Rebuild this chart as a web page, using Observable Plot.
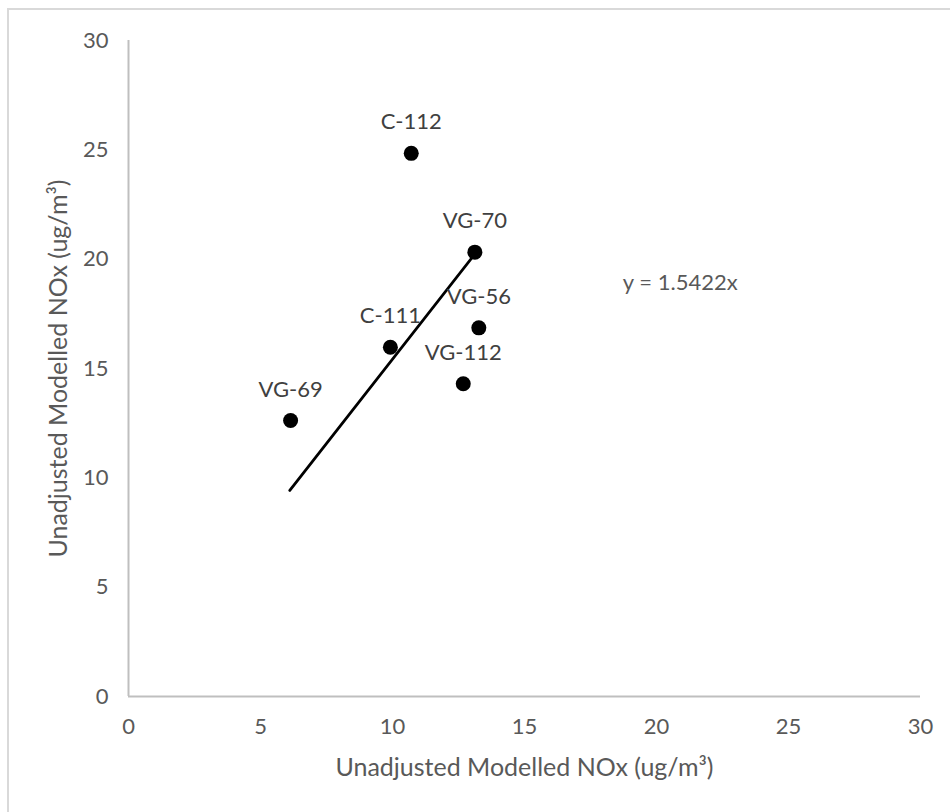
<!DOCTYPE html>
<html>
<head>
<meta charset="utf-8">
<script src="https://cdn.jsdelivr.net/npm/d3@7"></script>
<script src="https://cdn.jsdelivr.net/npm/@observablehq/plot@0.6"></script>
<style>
  html, body { margin: 0; padding: 0; background: #fff; overflow: hidden; }
  #frame { position: absolute; left: 7px; top: 8px; width: 1000px; height: 900px;
           border-left: 2px solid #d9d9d9; border-top: 2px solid #d9d9d9; }
  #chart { position: absolute; left: 0; top: 0; }
</style>
</head>
<body>
<div id="frame"></div>
<div id="chart"></div>
<script>
// Data
const sites = ["C-112", "VG-70", "VG-56", "C-111", "VG-112", "VG-69"];
const xValues = [10.71, 13.12, 13.27, 9.92, 12.68, 6.14];
const yValues = [24.84, 20.32, 16.86, 15.97, 14.30, 12.62];
const slope = 1.5422;
const trendRange = [6.11, 13.1];
const tickValues = [0, 5, 10, 15, 20, 25, 30];
const equationText = "y = 1.5422x";
const xTitle = "Unadjusted Modelled NOx (ug/m³)";
const yTitle = "Unadjusted Modelled NOx (ug/m³)";

const points = sites.map((s, i) => ({site: s, x: xValues[i], y: yValues[i]}));
const trend = trendRange.map(x => ({x, y: slope * x}));

const font = "Lato, 'Open Sans', sans-serif";
const fs = 22;

const chart = Plot.plot({
  width: 950,
  height: 812,
  marginLeft: 128,
  marginRight: 30,
  marginTop: 40,
  marginBottom: 116,
  style: {fontFamily: font, fontSize: fs + "px", background: "transparent"},
  x: {domain: [0, 30]},
  y: {domain: [0, 30]},
  marks: [
    Plot.ruleY([0], {stroke: "#bfbfbf", strokeWidth: 2}),
    Plot.ruleX([0], {stroke: "#bfbfbf", strokeWidth: 2}),
    Plot.axisX({ticks: tickValues, tickSize: 0, tickPadding: 22, label: null,
                fontSize: fs, color: "#595959"}),
    Plot.axisY({ticks: tickValues, tickSize: 0, tickPadding: 20, label: null,
                fontSize: fs, color: "#595959"}),
    Plot.line(trend, {x: "x", y: "y", stroke: "#000", strokeWidth: 2.8}),
    Plot.dot(points, {x: "x", y: "y", r: 7.5, fill: "#000", stroke: "none"}),
    Plot.text(points, {x: "x", y: "y", text: "site", dy: -31, fontSize: fs, fill: "#404040"}),
    Plot.text([equationText], {x: 20.9, y: 18.9, text: d => d, fontSize: fs, fill: "#595959"}),
    Plot.text([xTitle], {frameAnchor: "bottom", dy: 71, textAnchor: "middle", lineAnchor: "middle",
                         text: d => d, fontSize: 25, fill: "#595959"}),
    Plot.text([yTitle], {frameAnchor: "left", dx: -70, rotate: -90, textAnchor: "middle", lineAnchor: "middle",
                         text: d => d, fontSize: 25, fill: "#595959"})
  ]
});
document.getElementById("chart").appendChild(chart);
</script>
</body>
</html>
